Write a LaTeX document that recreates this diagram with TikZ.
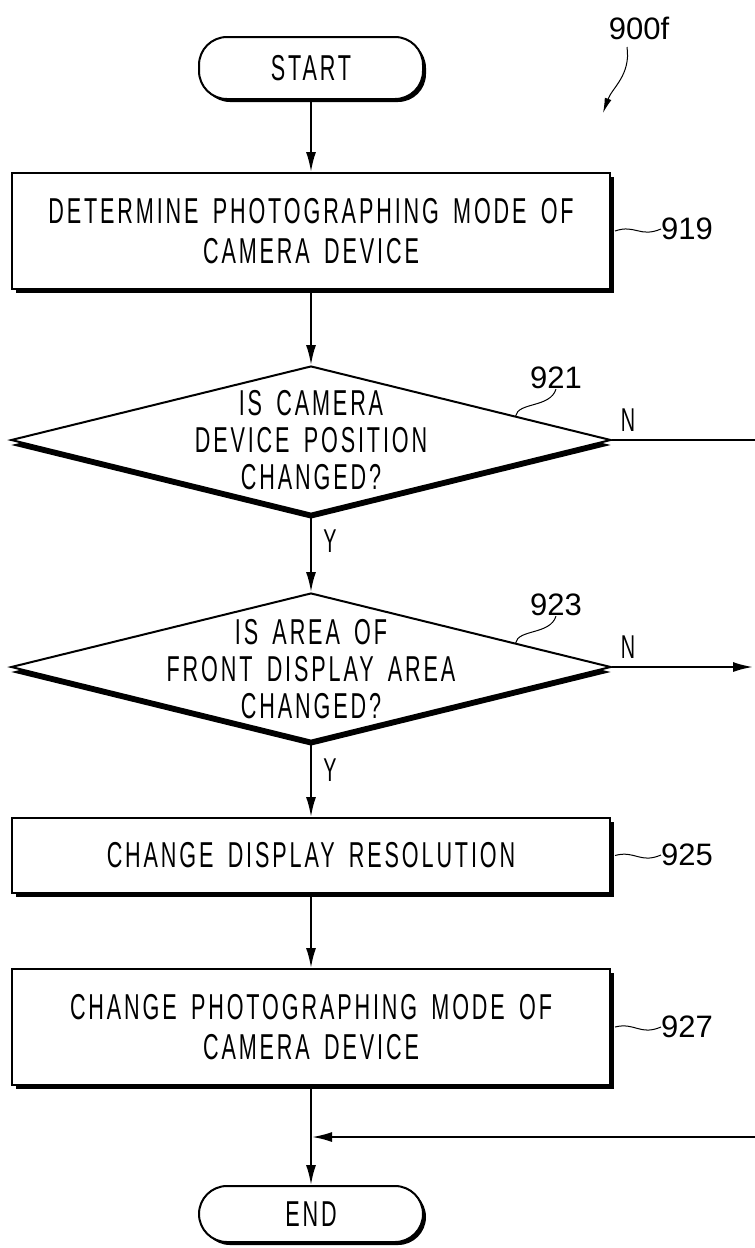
\documentclass[tikz,border=0pt]{standalone}
\usepackage{fontspec}
\setmainfont{Liberation Sans}[FakeStretch=0.6,LetterSpace=8,WordSpace=1.6]
\newfontfamily\refnumfont{Liberation Sans}
\usetikzlibrary{arrows.meta,calc,shapes.geometric,shadows}

\tikzset{
	flowline/.style={line width=2pt,-{Latex[length=20pt,width=10pt]}},
	leader/.style={line width=1pt},
	blackshadow/.style={drop shadow={shadow xshift=#1,shadow yshift=-#1,fill=black,opacity=1}},
	procbox/.style={draw,line width=2pt,fill=white,minimum width=598pt,inner sep=0pt,align=center,blackshadow=4pt},
	termbox/.style={draw,line width=2pt,fill=white,rounded corners=28pt,minimum width=224pt,inner sep=0pt,blackshadow=3pt},
	decision/.style={diamond,draw,line width=2pt,fill=white,minimum width=600pt,minimum height=148pt,inner sep=0pt,
		drop shadow={shadow xshift=0pt,shadow yshift=-5pt,fill=black,opacity=1}},
	boxtext/.style={font=\fontsize{36}{40}\selectfont},
	asktext/.style={align=center,font=\fontsize{36}{37}\selectfont},
	refnum/.style={font=\refnumfont\fontsize{31}{36}\selectfont,inner sep=0pt},
	yesno/.style={font=\fontsize{33}{36}\selectfont,inner sep=0pt}
}

\begin{document}
\begin{tikzpicture}[x=1pt,y=-1pt]
			%%%%% FRAME %%%%%
			\useasboundingbox (0,0) rectangle (755,1248);
			\clip (0,0) rectangle (755,1248);
			
			%%%%% STEPS %%%%%
			\node[termbox,minimum height=62pt,boxtext] (start) at (311,68) {START};
			\node[procbox,minimum height=116pt,boxtext] (b919) at (311,231) {DETERMINE PHOTOGRAPHING MODE OF\\CAMERA DEVICE};
			\node[decision] (q921) at (311,440) {};
			\node[asktext] (t921) at (q921) {IS CAMERA\\DEVICE POSITION\\CHANGED?};
			\node[decision] (q923) at (311,667) {};
			\node[asktext] (t923) at ([yshift=-2pt]q923) {IS AREA OF\\FRONT DISPLAY AREA\\CHANGED?};
			\node[procbox,minimum height=75pt,boxtext] (b925) at (311,855.5) {CHANGE DISPLAY RESOLUTION};
			\node[procbox,minimum height=116pt,boxtext] (b927) at (311,1027) {CHANGE PHOTOGRAPHING MODE OF\\CAMERA DEVICE};
			\node[termbox,minimum height=56pt,boxtext] (end) at (311,1214) {END};
			
			%%%%% FLOW %%%%%
			\coordinate (exit921) at (762,440);
			\coordinate (exit923) at (753,667);
			\coordinate (join) at (312,1137);
			
			\draw[flowline] (start) -- (b919);
			\draw[flowline] (b919) -- (q921);
			\draw[flowline] (q921) -- (q923);
			\draw[flowline] (q923) -- (b925);
			\draw[flowline] (b925) -- (b927);
			\draw[flowline] (b927) -- (end);
			\draw[flowline] (q921.east) -- (exit921) |- (join);
			\draw[flowline] (q923.east) -- (exit923);
			
			\node[yesno] (y921) at (330,541) {Y};
			\node[yesno] (y923) at (330,770) {Y};
			\node[yesno] (n921) at (628,420) {N};
			\node[yesno] (n923) at (628,647) {N};
			
			%%%%% REFERENCE NUMBERS %%%%%
			\node[refnum] (l900) at (639,28) {900f};
			\draw[leader,-{Latex[length=15pt,width=7pt]}] (627,47) .. controls (631,75) and (612,88) .. (603,113);
			
			\node[refnum] (l919) at (687,229) {919};
			\draw[leader] ([xshift=4pt]b919.east) .. controls (635,224) and (640,238) .. (l919.west);
			
			\node[refnum] (l921) at (556,378) {921};
			\draw[leader] ($(q921.north)!0.68!(q921.east)$) .. controls (518,402) and (550,408) .. (l921.south);
			
			\node[refnum] (l923) at (556,605) {923};
			\draw[leader] ($(q923.north)!0.68!(q923.east)$) .. controls (518,629) and (550,635) .. (l923.south);
			
			\node[refnum] (l925) at (687,855) {925};
			\draw[leader] ([xshift=4pt]b925.east) .. controls (635,850) and (640,864) .. (l925.west);
			
			\node[refnum] (l927) at (687,1027) {927};
			\draw[leader] ([xshift=4pt]b927.east) .. controls (635,1022) and (640,1036) .. (l927.west);
\end{tikzpicture}
\end{document}
